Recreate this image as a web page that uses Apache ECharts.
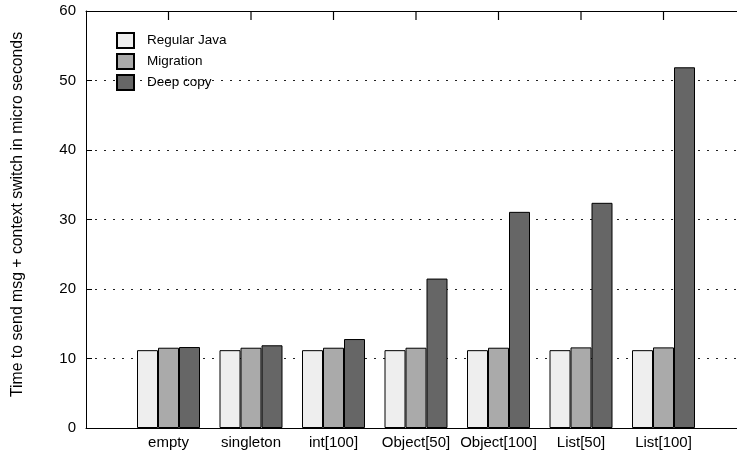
<!DOCTYPE html>
<html><head><meta charset="utf-8">
<script src="https://cdn.jsdelivr.net/npm/echarts@6/dist/echarts.min.js"></script>
<style>html,body{margin:0;padding:0;background:#fff}#c{width:737px;height:460px}</style>
</head><body><div id="c"></div>
<script>
var categories = ['empty', 'singleton', 'int[100]', 'Object[50]', 'Object[100]', 'List[50]', 'List[100]'];
var regularJava = [11.2, 11.2, 11.2, 11.2, 11.2, 11.2, 11.2];
var migration = [11.55, 11.55, 11.55, 11.55, 11.55, 11.6, 11.6];
var deepCopy = [11.65, 11.9, 12.8, 21.5, 31.1, 32.4, 51.9];
var yTicks = [0, 10, 20, 30, 40, 50, 60];

var axisCats = [''].concat(categories, ['']);
function pad(arr) { return [null].concat(arr, [null]); }
var yMax = yTicks[yTicks.length - 1];
var font = 'Liberation Sans, Arial, Helvetica, sans-serif';

var chart = echarts.init(document.getElementById('c'));
chart.setOption({
  animation: false,
  textStyle: { fontFamily: font },
  grid: { left: 86, top: 11, width: 660, height: 417, containLabel: false, outerBoundsMode: 'none' },
  legend: {
    orient: 'vertical', left: 116, top: 32, itemWidth: 17, itemHeight: 15, itemGap: 4, padding: 0,
    icon: 'rect',
    textStyle: { fontSize: 13.5, color: '#000', fontFamily: font, padding: [0, 0, 0, 8] },
    data: ['Regular Java', 'Migration', 'Deep copy']
  },
  xAxis: [{
    type: 'category', data: axisCats, boundaryGap: false, position: 'bottom',
    axisLine: { lineStyle: { color: '#000', width: 1 } },
    axisTick: { show: false },
    axisLabel: { color: '#000', fontSize: 15, margin: 7, fontFamily: font, interval: 0 },
    splitLine: { show: false }
  }, {
    type: 'category', data: axisCats, boundaryGap: false, position: 'top',
    axisLine: { show: true, lineStyle: { color: '#000', width: 1 } },
    axisTick: { show: false },
    axisLabel: { show: false },
    splitLine: { show: false }
  }],
  yAxis: {
    type: 'value', min: yTicks[0], max: yMax, interval: 10,
    name: 'Time to send msg + context switch in micro seconds',
    nameLocation: 'middle', nameGap: 60, nameRotate: 90,
    nameTextStyle: { fontSize: 15.8, color: '#000', fontFamily: font, padding: [0, 0, 0, 10] },
    axisLine: { show: true, lineStyle: { color: '#000', width: 1 } },
    axisTick: { show: true, inside: true, length: 6, lineStyle: { color: '#000' } },
    axisLabel: { color: '#000', fontSize: 15, margin: 10, fontFamily: font },
    splitLine: { show: true, lineStyle: { color: '#222', type: [2, 7], width: 1 } }
  },
  series: [
    { name: 'Regular Java', type: 'bar', data: pad(regularJava), barWidth: 21, barGap: '0%',
      itemStyle: { color: '#eeeeee', borderColor: '#000', borderWidth: 1 } },
    { name: 'Migration', type: 'bar', data: pad(migration), barWidth: 21, barGap: '0%',
      itemStyle: { color: '#aaaaaa', borderColor: '#000', borderWidth: 1 } },
    { name: 'Deep copy', type: 'bar', data: pad(deepCopy), barWidth: 21, barGap: '0%',
      itemStyle: { color: '#666666', borderColor: '#000', borderWidth: 1 } },
    { name: 'topTicks', type: 'scatter', clip: false,
      data: pad(categories.map(function () { return yMax; })),
      symbol: 'rect', symbolSize: [1.2, 9], symbolOffset: [0, 4.5], silent: true, z: 5,
      itemStyle: { color: '#000', opacity: 1 } }
  ]
});
</script></body></html>
